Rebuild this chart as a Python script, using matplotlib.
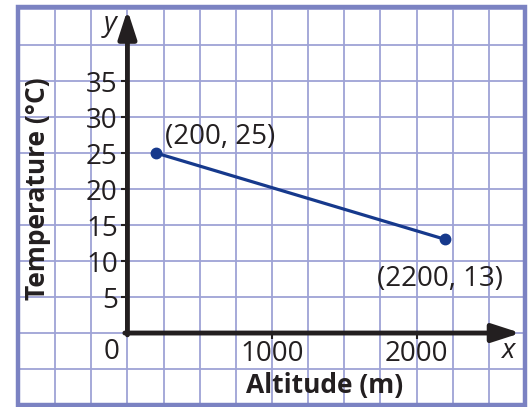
import matplotlib.pyplot as plt
from matplotlib.patches import Rectangle
import numpy as np

altitude = [200, 2200]
temperature = [25, 13]
point_labels = ["(200, 25)", "(2200, 13)"]
y_ticks = [5, 10, 15, 20, 25, 30, 35]
x_ticks = [1000, 2000]

ink = "#231f20"
grid_col = "#9ea3d6"
frame_col = "#7b82c2"
line_col = "#16398c"

plt.rcParams["font.family"] = ["Open Sans", "DejaVu Sans"]

fig = plt.figure(figsize=(5.32, 4.07), dpi=100)
ax = fig.add_axes([18 / 532, 2 / 407, 507 / 532, 398 / 407])
ax.set_xlim(-757, 2734)
ax.set_ylim(-10, 45.3)

# grid paper
ax.set_xticks(np.arange(-750, 2751, 250), minor=True)
ax.set_yticks(np.arange(-10, 46, 5), minor=True)
ax.set_xticks(x_ticks)
ax.set_yticks(y_ticks)
ax.grid(which="both", color=grid_col, lw=1.3, zorder=0)
ax.set_axisbelow(True)
ax.tick_params(which="minor", length=0)

ax.spines["left"].set_position(("data", 0))
ax.spines["bottom"].set_position(("data", 0))
for s in ax.spines.values():
    s.set_visible(False)
ax.tick_params(axis="y", which="major", length=4, width=1.5, color=ink,
               labelsize=20, labelcolor=ink, pad=3)
ax.tick_params(axis="x", which="major", length=4, width=1.5, color=ink,
               labelsize=20, labelcolor=ink, pad=1)

# axes with arrows
arrow = dict(arrowstyle="-|>,head_length=1.7,head_width=0.55", lw=3.5, color=ink,
             shrinkA=0, shrinkB=0)
ax.annotate("", xy=(0, 44.9), xytext=(0, -0.25), arrowprops=arrow)
ax.annotate("", xy=(2720, 0), xytext=(-18, 0), arrowprops=arrow)

ax.text(-110, -2.7, "0", fontsize=20, color=ink, ha="center", va="center")
ax.text(-117, 43.0, "y", fontsize=20, style="italic", color=ink, ha="center", va="center")
ax.text(2631, -2.5, "x", fontsize=20, style="italic", color=ink, ha="center", va="center")

ax.text(-620, 20.1, "Temperature (°C)", rotation=90, fontsize=19, weight="bold",
        color=ink, ha="center", va="center")
ax.text(1364, -7.3, "Altitude (m)", fontsize=19, weight="bold",
        color=ink, ha="center", va="center")

# data
ax.plot(altitude, temperature, color=line_col, lw=2.3, marker="o", ms=7.5, zorder=5)
ax.text(262, 27.3, point_labels[0], fontsize=20, color=ink, ha="left", va="center")
ax.text(2163, 7.5, point_labels[1], fontsize=20, color=ink, ha="center", va="center")

fig.add_artist(Rectangle((18 / 532, 2 / 407), 507 / 532, 398 / 407,
                         transform=fig.transFigure, fill=False,
                         edgecolor=frame_col, lw=3.2, zorder=10))

fig.savefig("out.png", dpi=100)
